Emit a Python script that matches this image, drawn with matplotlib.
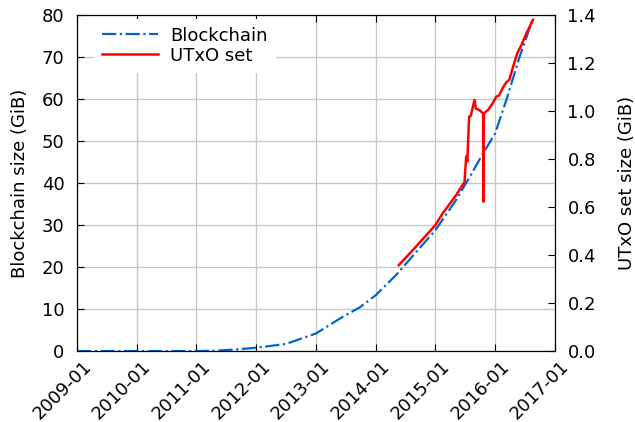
import matplotlib
matplotlib.use("Agg")
import matplotlib.pyplot as plt
import matplotlib.dates as mdates
import matplotlib.transforms as mtransforms
import pandas as pd

plt.rcParams.update({'font.size': 13, 'font.family': 'DejaVu Sans'})

# blockchain size (GiB), left axis
chain_dates = ['2009-01-01', '2010-01-01', '2011-01-01', '2011-05-01', '2011-09-01',
               '2012-01-01', '2012-07-01', '2013-01-01', '2013-06-15', '2013-09-25',
               '2014-01-01', '2014-05-10', '2015-01-01', '2015-05-08', '2015-08-05',
               '2015-10-20', '2016-01-01', '2016-03-10', '2016-05-30', '2016-08-20']
chain_size = [0.0, 0.0, 0.01, 0.1, 0.4,
              0.8, 1.7, 4.2, 8.2, 10.4,
              13.3, 18.3, 28.8, 36.0, 41.9,
              47.1, 51.8, 59.8, 70.1, 79.2]

# UTxO set size (GiB), right axis
utxo_dates = ['2014-05-22', '2014-08-15', '2015-01-01', '2015-02-15', '2015-03-01',
              '2015-05-08', '2015-06-28', '2015-07-08', '2015-07-15', '2015-07-26',
              '2015-08-05', '2015-08-28', '2015-09-05', '2015-09-27', '2015-10-20',
              '2015-10-22', '2015-10-24', '2015-11-18', '2015-12-15', '2016-01-08',
              '2016-01-25', '2016-02-20', '2016-03-10', '2016-03-28', '2016-04-20',
              '2016-05-15', '2016-06-10', '2016-07-08', '2016-08-20']
utxo_size = [0.358, 0.42, 0.525, 0.575, 0.587,
             0.65, 0.705, 0.81, 0.79, 0.976,
             0.98, 1.046, 1.01, 1.004, 0.99,
             0.622, 0.99, 1.004, 1.03, 1.06,
             1.065, 1.10, 1.12, 1.13, 1.185,
             1.24, 1.275, 1.32, 1.38]

fig = plt.figure(figsize=(6.35, 4.22), dpi=100)
ax1 = fig.add_axes([0.1213, 0.168, 0.7527, 0.7965])
ax2 = ax1.twinx()

l1, = ax1.plot(pd.to_datetime(chain_dates), chain_size, color='#0066cc',
               linestyle='-.', linewidth=1.6, label='Blockchain')
l2, = ax2.plot(pd.to_datetime(utxo_dates), utxo_size, color='red',
               linestyle='-', linewidth=1.8, label='UTxO set')

ax1.set_xlim(pd.Timestamp('2009-01-01'), pd.Timestamp('2017-01-01'))
ax1.set_ylim(0, 80)
ax2.set_ylim(0, 1.4)
ax1.set_yticks(range(0, 81, 10))
ax2.set_yticks([0.0, 0.2, 0.4, 0.6, 0.8, 1.0, 1.2, 1.4])
ax2.yaxis.set_major_formatter(matplotlib.ticker.FormatStrFormatter('%.1f'))

ax1.xaxis.set_major_locator(mdates.YearLocator())
ax1.xaxis.set_major_formatter(mdates.DateFormatter('%Y-%m'))

ax1.tick_params(direction='in', top=True, length=5, pad=9)
ax1.tick_params(axis='x', pad=4.5)
ax2.tick_params(direction='in', length=5, pad=9)
ax1.grid(True, color='#c8c8c8', linewidth=1)

# gnuplot style rotated labels, nudged a bit right of the tick
shift = mtransforms.ScaledTranslation(0.05, 0.0, fig.dpi_scale_trans)
for lbl in ax1.get_xticklabels():
    lbl.set_rotation(45)
    lbl.set_ha('right')
    lbl.set_rotation_mode('anchor')
    lbl.set_transform(lbl.get_transform() + shift)

ax1.set_ylabel('Blockchain size (GiB)', labelpad=9)
ax2.set_ylabel('UTxO set size (GiB)', labelpad=16)

leg = ax2.legend(handles=[l1, l2], loc='upper left', handlelength=3.1,
                 handletextpad=0.67, frameon=True, fancybox=False,
                 borderaxespad=0.2, labelspacing=0.1, borderpad=0.45,
                 bbox_to_anchor=(0.028, 1.0))
leg.get_frame().set_facecolor('white')
leg.get_frame().set_edgecolor('none')
leg.get_frame().set_alpha(1)

fig.savefig('out.png', dpi=100)
